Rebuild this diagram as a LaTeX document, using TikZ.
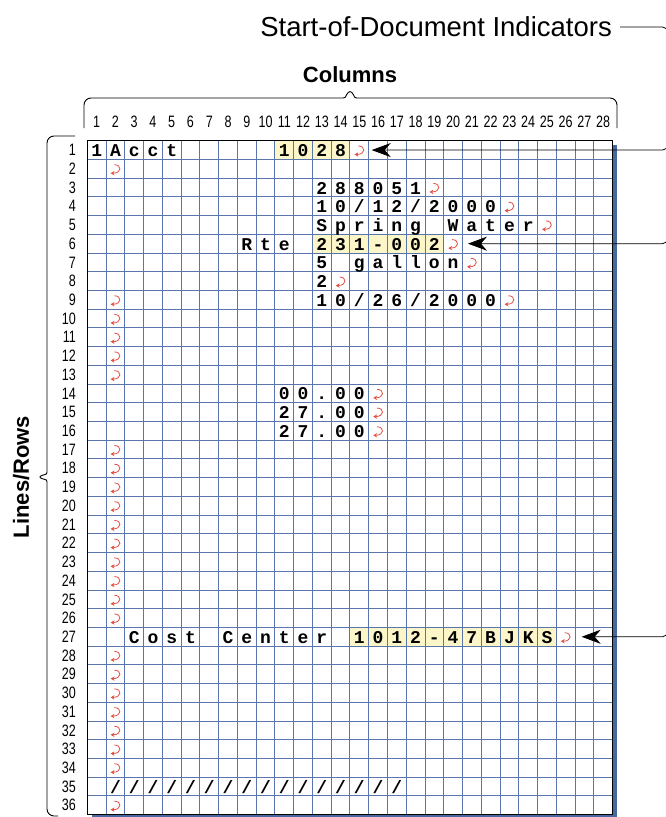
\documentclass[tikz,border=0pt]{standalone}
\usepackage{fontspec}
\setmainfont{Liberation Sans}
\setmonofont{Liberation Mono}
\newfontfamily\narrowfont[FakeStretch=0.76]{Liberation Sans}
\usetikzlibrary{arrows.meta}

\definecolor{gridblue}{RGB}{88,118,172}
\definecolor{shadowblue}{RGB}{72,104,160}
\definecolor{hilite}{RGB}{253,246,200}
\definecolor{retred}{RGB}{228,80,68}

\tikzset{
  retsym/.pic={\draw[retred, line width=0.8pt, -{Stealth[length=3.8pt,width=4.4pt]}]
    (-1pt,5pt) .. controls (6.5pt,5pt) and (6.5pt,-3.5pt) .. (-4.8pt,-3.5pt);}
}

% row, first column, characters
\newcommand{\putchars}[3]{%
  \foreach \ch [count=\cc from #2] in {#3}
    \node[charcell, name=ch#1-\cc] at (\cc-0.5,#1-0.15) {\ch};}
% row, column
\newcommand{\putret}[2]{\pic at (#2-0.5,#1-0.45) {retsym};}

\begin{document}
\begin{tikzpicture}[x=1pt, y=-1pt,
  charcell/.style={inner sep=0pt, anchor=base, font=\ttfamily\bfseries\fontsize{18}{18}\selectfont},
  colnum/.style={inner sep=0pt, font=\narrowfont\fontsize{16.5}{16.5}\selectfont},
  rownum/.style={colnum, anchor=east},
  heading/.style={inner sep=0pt, font=\bfseries\fontsize{22}{22}\selectfont},
  gridline/.style={gridblue, line width=0.9pt},
  callout/.style={black, line width=0.8pt},
  pointer/.style={callout, -{Stealth[length=19pt,width=14pt,inset=6pt]}},
  brace/.style={line width=0.9pt, rounded corners=7pt}
]
\useasboundingbox (0,0) rectangle (666,817);

% headings
\node[inner sep=0pt, anchor=east, font=\fontsize{27.5}{27.5}\selectfont] (sdi) at (612,27) {Start-of-Document Indicators};
\node[heading] (cols) at (350,75) {Columns};
\node[heading, rotate=90] (rows) at (21,477) {Lines/Rows};

% braces
\draw[brace] (84,128) -- (84,98) -- (336,98) .. controls (345,98) .. (350,88)
  .. controls (355,98) .. (364,98) -- (617,98) -- (617,128);
\draw[brace] (75,136) -- (47,136) -- (47,465) .. controls (47,474) .. (36,477)
  .. controls (47,480) .. (47,489) -- (47,816) -- (58,816);

% the sheet
\begin{scope}[xshift=87.3pt, yshift=-140.7pt, x=18.76pt, y=-18.72pt]
  \fill[shadowblue] ([shift={(4.5pt,-4.5pt)}]0,0) rectangle ([shift={(4.5pt,-4.5pt)}]28,36);
  \fill[white] (0,0) rectangle (28,36);
  \fill[hilite] (10,0) rectangle (14,1);
  \fill[hilite] (12,5) rectangle (19,6);
  \fill[hilite] (14,26) rectangle (25,27);
  \foreach \c in {1,...,27} \draw[gridline] (\c,0) -- (\c,36);
  \foreach \r in {1,...,35} \draw[gridline] (0,\r) -- (28,\r);
  \draw[line width=1.3pt] (0,0) rectangle (28,36);

  \foreach \c in {1,...,28} \node[colnum] (col\c) at (\c-0.5,-1) {\c};
  \foreach \r in {1,...,36} \node[rownum] (row\r) at (-0.6,\r-0.5) {\r};

  % text
  \putchars{1}{1}{1,A,c,c,t}
  \putchars{1}{11}{1,0,2,8}
  \putchars{3}{13}{2,8,8,0,5,1}
  \putchars{4}{13}{1,0,/,1,2,/,2,0,0,0}
  \putchars{5}{13}{S,p,r,i,n,g}
  \putchars{5}{20}{W,a,t,e,r}
  \putchars{6}{9}{R,t,e}
  \putchars{6}{13}{2,3,1,-,0,0,2}
  \putchars{7}{13}{5}
  \putchars{7}{15}{g,a,l,l,o,n}
  \putchars{8}{13}{2}
  \putchars{9}{13}{1,0,/,2,6,/,2,0,0,0}
  \putchars{14}{11}{0,0,.,0,0}
  \putchars{15}{11}{2,7,.,0,0}
  \putchars{16}{11}{2,7,.,0,0}
  \putchars{27}{3}{C,o,s,t}
  \putchars{27}{8}{C,e,n,t,e,r}
  \putchars{27}{15}{1,0,1,2,-,4,7,B,J,K,S}
  \foreach \c in {2,...,17} \node[charcell, name=sl\c] at (\c-0.5,35-0.15) {/};

  % line ends
  \putret{1}{15} \putret{3}{19} \putret{4}{23} \putret{5}{25} \putret{6}{20}
  \putret{7}{21} \putret{8}{14} \putret{9}{23} \putret{14}{16} \putret{15}{16}
  \putret{16}{16} \putret{27}{26}
  \foreach \r in {2,9,10,11,12,13,17,18,...,26,28,29,...,34,36} {\putret{\r}{2}}

  \coordinate (tipA) at (15.16,0.5);
  \coordinate (tipB) at (20.29,5.5);
  \coordinate (tipC) at (26.35,26.5);
\end{scope}

% indicators
\coordinate (rail) at (667.5,0);
\draw[pointer, rounded corners=5pt] ([xshift=8pt]sdi.east) -- (sdi.east -| rail) -- (tipC -| rail) -- (tipC);
\draw[pointer, rounded corners=5pt] ([yshift=8pt]tipA -| rail) -- (tipA -| rail) -- (tipA);
\draw[pointer, rounded corners=5pt] ([yshift=8pt]tipB -| rail) -- (tipB -| rail) -- (tipB);
\end{tikzpicture}
\end{document}
